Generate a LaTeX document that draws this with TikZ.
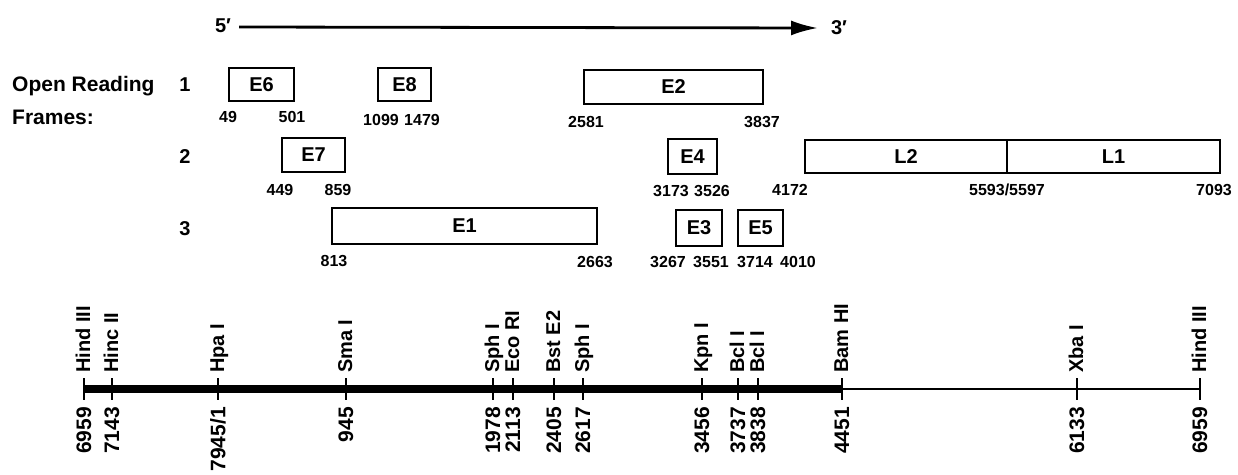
\documentclass[tikz,border=0pt]{standalone}
\usepackage{fontspec}
\setmainfont{Liberation Sans}
\usetikzlibrary{arrows.meta}
\begin{document}
\begin{tikzpicture}[x=1pt,y=-1pt,
  orf/.style={draw, line width=2.8pt, inner sep=0pt, font=\fontsize{20}{24}\bfseries\selectfont},
  posnum/.style={inner sep=0pt, font=\fontsize{16}{19}\bfseries\selectfont},
  sitelab/.style={rotate=90, anchor=base west, inner sep=0pt, font=\fontsize{20}{24}\bfseries\selectfont},
  coordlab/.style={rotate=90, anchor=east, inner sep=0pt, font=\fontsize{21}{25}\bfseries\selectfont},
  tickmark/.style={line width=2.5pt},
  lab/.style={inner sep=0pt, font=\fontsize{20}{24}\bfseries\selectfont},
  biglab/.style={inner sep=0pt, font=\fontsize{21}{25}\bfseries\selectfont}]
\useasboundingbox (0,0) rectangle (1238,474);

% strand direction
\node[lab] (five) at (223,26) {5′};
\node[lab] (three) at (839,28) {3′};
\coordinate (as) at (239,27);
\coordinate (ae) at (818,28);
\draw[line width=2.8pt, -{Latex[length=27pt,width=15pt]}] (as) -- (ae);

% row labels
\node[biglab, anchor=base west] (orfa) at (12,91) {Open Reading};
\node[biglab, anchor=base west] (orfb) at (12,124) {Frames:};
\node[lab] (f1) at (185,85) {1};
\node[lab] (f2) at (185,157) {2};
\node[lab] (f3) at (185,229) {3};

% frame 1
\node[orf, minimum width=65, minimum height=33] (e6) at (261.5,84.5) {E6};
\node[orf, minimum width=53, minimum height=33] (e8) at (404.5,84.5) {E8};
\node[orf, minimum width=179, minimum height=34] (e2) at (673.5,87) {E2};
\node[posnum] (n49) at (228,117) {49};
\node[posnum] (n501) at (292,117) {501};
\node[posnum] (n1099) at (381,120) {1099};
\node[posnum] (n1479) at (422,120) {1479};
\node[posnum] (n2581) at (586,122) {2581};
\node[posnum] (n3837) at (762,122) {3837};

% frame 2
\node[orf, minimum width=63, minimum height=34] (e7) at (313.5,155) {E7};
\node[orf, minimum width=49, minimum height=35] (e4) at (692.5,156.5) {E4};
\node[orf, minimum width=202, minimum height=33] (l2) at (906,156.5) {L2};
\node[orf, minimum width=213, minimum height=33] (l1) at (1113.5,156.5) {L1};
\node[posnum] (n449) at (280,190) {449};
\node[posnum] (n859) at (338,190) {859};
\node[posnum] (n3173) at (671,191) {3173};
\node[posnum] (n3526) at (712,191) {3526};
\node[posnum] (n4172) at (790,190) {4172};
\node[posnum] (n5593) at (1007,190) {5593/5597};
\node[posnum] (n7093) at (1214,190) {7093};

% frame 3
\node[orf, minimum width=265, minimum height=36] (e1) at (464.5,226) {E1};
\node[orf, minimum width=46, minimum height=36] (e3) at (699,228) {E3};
\node[orf, minimum width=45, minimum height=36] (e5) at (760.5,228) {E5};
\node[posnum] (n813) at (334,261) {813};
\node[posnum] (n2663) at (595,262) {2663};
\node[posnum] (n3267) at (668,262) {3267};
\node[posnum] (n3551) at (711,262) {3551};
\node[posnum] (n3714) at (755,262) {3714};
\node[posnum] (n4010) at (798,262) {4010};

% restriction map
\foreach \n/\x in {a/84,b/112,c/218,d/346,e/493,f/513,g/554,h/583,i/702,j/738,k/758,l/842,m/1077,n/1200}
  \coordinate (t\n) at (\x,389);
\draw[line width=8pt] (ta) -- (tl);
\draw[line width=2pt] (tl) -- (tn);
\foreach \n in {a,b,c,d,e,f,g,h,i,j,k,l,m,n}
  \draw[tickmark] ([yshift=11pt]t\n) -- ([yshift=-11pt]t\n);

\foreach \n/\x/\s/\c in {a/84/Hind III/6959, b/112/Hinc II/7143, c/218/Hpa I/{7945/1},
    d/346/Sma I/945, e/493/Sph I/1978, f/513/Eco RI/2113, g/554/Bst E2/2405,
    h/583/Sph I/2617, i/702/Kpn I/3456, j/738/Bcl I/3737, k/758/Bcl I/3838,
    l/842/Bam HI/4451, m/1077/Xba I/6133, n/1200/Hind III/6959}{
  \node[sitelab] (s\n) at (\x+6,373) {\s};
  \node[coordlab] (c\n) at (\x,407) {\c};
}
\end{tikzpicture}
\end{document}
